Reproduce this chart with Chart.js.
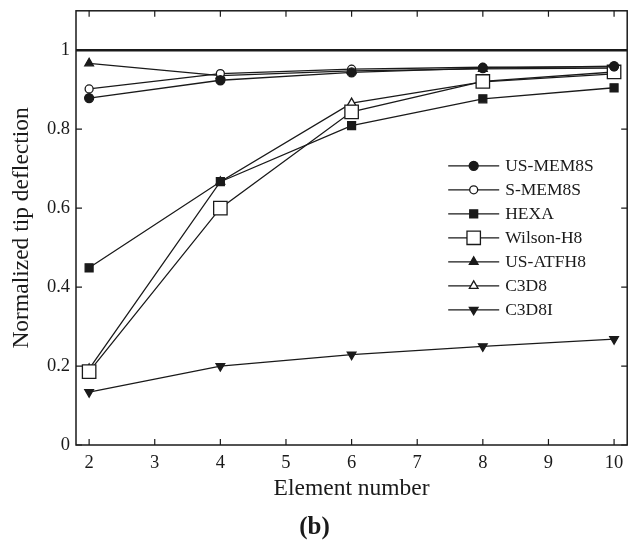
<!DOCTYPE html>
<html>
<head>
<meta charset="utf-8">
<script src="https://cdn.jsdelivr.net/npm/chart.js@4/dist/chart.umd.min.js"></script>
<style>
  html, body { margin: 0; padding: 0; background: #fff; }
  #wrap { width: 638px; height: 551px; }
</style>
</head>
<body>
<div id="wrap"><canvas id="chart"></canvas></div>
<script>
// 데이터
const elements = [2, 4, 6, 8, 10];
const usMem8s  = [0.879, 0.924, 0.944, 0.955, 0.960];
const sMem8s   = [0.902, 0.941, 0.952, 0.957, 0.958];
const hexa     = [0.449, 0.667, 0.809, 0.877, 0.905];
const wilsonH8 = [0.186, 0.600, 0.844, 0.921, 0.945];
const usAtfh8  = [0.967, 0.936, 0.948, 0.953, 0.955];
const c3d8     = [0.193, 0.667, 0.866, 0.920, 0.940];
const c3d8i    = [0.134, 0.200, 0.229, 0.250, 0.268];
const refLevel = 1;

const INK = '#1a1a1a';
const SERIF = "'Liberation Serif', 'DejaVu Serif', serif";

function pts(values) {
  return elements.map((x, i) => ({ x, y: values[i] }));
}

function series(label, values, style, filled, radius, rotation) {
  return {
    label,
    data: pts(values),
    borderColor: INK,
    borderWidth: 1.3,
    pointStyle: style,
    pointRadius: radius,
    pointRotation: rotation || 0,
    pointBackgroundColor: filled ? INK : '#fff',
    pointBorderColor: INK,
    pointBorderWidth: 1.3,
    tension: 0,
    fill: false,
  };
}

const datasets = [
  series('US-MEM8S', usMem8s, 'circle', true, 4.5),
  series('S-MEM8S', sMem8s, 'circle', false, 4),
  series('HEXA', hexa, 'rect', true, 5.6),
  series('Wilson-H8', wilsonH8, 'rect', false, 9.5),
  series('US-ATFH8', usAtfh8, 'triangle', true, 5),
  series('C3D8', c3d8, 'triangle', false, 5),
  series('C3D8I', c3d8i, 'triangle', true, 5, 180),
];

// ============================================
// 테두리, 안쪽 눈금, 기준선
// ============================================
const framePlugin = {
  id: 'frame',
  beforeDatasetsDraw(chart) {
    const { ctx, chartArea: a, scales: { y } } = chart;
    ctx.save();
    // y = 1 기준선
    const yr = y.getPixelForValue(refLevel);
    ctx.strokeStyle = INK;
    ctx.lineWidth = 2.6;
    ctx.beginPath();
    ctx.moveTo(a.left, yr);
    ctx.lineTo(a.right, yr);
    ctx.stroke();
    ctx.restore();
  },
  afterDatasetsDraw(chart) {
    const { ctx, chartArea: a, scales: { x, y } } = chart;
    const len = 6;
    ctx.save();
    ctx.strokeStyle = INK;
    ctx.lineWidth = 1.5;
    ctx.strokeRect(a.left, a.top, a.right - a.left, a.bottom - a.top);
    ctx.lineWidth = 1.2;
    ctx.beginPath();
    x.ticks.forEach(t => {
      const px = x.getPixelForValue(t.value);
      ctx.moveTo(px, a.bottom); ctx.lineTo(px, a.bottom - len);
      ctx.moveTo(px, a.top); ctx.lineTo(px, a.top + len);
    });
    y.ticks.forEach(t => {
      const py = y.getPixelForValue(t.value);
      ctx.moveTo(a.left, py); ctx.lineTo(a.left + len, py);
      ctx.moveTo(a.right, py); ctx.lineTo(a.right - len, py);
    });
    ctx.stroke();
    ctx.restore();
  }
};

// ============================================
// 차트 안 범례 (선 + 마커)
// ============================================
const insideLegend = {
  id: 'insideLegend',
  afterDraw(chart) {
    const { ctx, chartArea: a } = chart;
    const x0 = a.right - 179;
    const lineLen = 51;
    const top = a.top + 155;
    const gap = 24;
    ctx.save();
    ctx.font = `17.5px ${SERIF}`;
    ctx.textBaseline = 'middle';
    ctx.textAlign = 'left';
    chart.data.datasets.forEach((ds, i) => {
      const yy = top + i * gap;
      ctx.strokeStyle = INK;
      ctx.lineWidth = 1.3;
      ctx.beginPath();
      ctx.moveTo(x0, yy);
      ctx.lineTo(x0 + lineLen, yy);
      ctx.stroke();
      ctx.fillStyle = ds.pointBackgroundColor;
      ctx.strokeStyle = INK;
      ctx.lineWidth = 1.3;
      Chart.helpers.drawPoint(ctx, {
        pointStyle: ds.pointStyle,
        radius: ds.pointRadius,
        rotation: ds.pointRotation,
        borderWidth: 1.3,
      }, x0 + lineLen / 2, yy);
      ctx.fillStyle = INK;
      ctx.fillText(ds.label, x0 + lineLen + 6, yy + 1);
    });
    ctx.restore();
  }
};

const ctx = document.getElementById('chart').getContext('2d');
new Chart(ctx, {
  type: 'line',
  data: { datasets },
  options: {
    responsive: true,
    maintainAspectRatio: false,
    animation: false,
    layout: { padding: { top: 9, right: 9, left: 0, bottom: 0 } },
    plugins: {
      legend: { display: false },
      tooltip: { enabled: false },
      title: {
        display: true,
        position: 'bottom',
        text: '(b)',
        color: INK,
        font: { family: SERIF, size: 25, weight: 'bold' },
        padding: { top: 0, bottom: 8 },
      },
    },
    scales: {
      x: {
        type: 'linear',
        min: 1.8,
        max: 10.2,
        afterFit(scale) {
          scale.height = 68;
          scale.paddingLeft = 0;
          scale.paddingRight = 0;
        },
        grid: { display: false, drawTicks: false },
        border: { display: false },
        ticks: {
          stepSize: 1,
          includeBounds: false,
          color: INK,
          padding: 7,
          font: { family: SERIF, size: 18.5 },
        },
        title: {
          display: true,
          text: 'Element number',
          color: INK,
          font: { family: SERIF, size: 23.5 },
          padding: { top: 0, bottom: 10 },
        },
      },
      y: {
        min: 0,
        max: 1.1,
        afterFit(scale) {
          scale.width = 76;
          scale.paddingTop = 0;
          scale.paddingBottom = 0;
        },
        grid: { display: false, drawTicks: false },
        border: { display: false },
        ticks: {
          stepSize: 0.2,
          includeBounds: false,
          color: INK,
          padding: 6,
          font: { family: SERIF, size: 18.5 },
          callback: v => String(+v.toFixed(1)),
        },
        title: {
          display: true,
          text: 'Normalized tip deflection',
          color: INK,
          font: { family: SERIF, size: 23.5 },
          padding: { top: 8, bottom: 0 },
        },
      },
    },
  },
  plugins: [framePlugin, insideLegend],
});
</script>
</body>
</html>
